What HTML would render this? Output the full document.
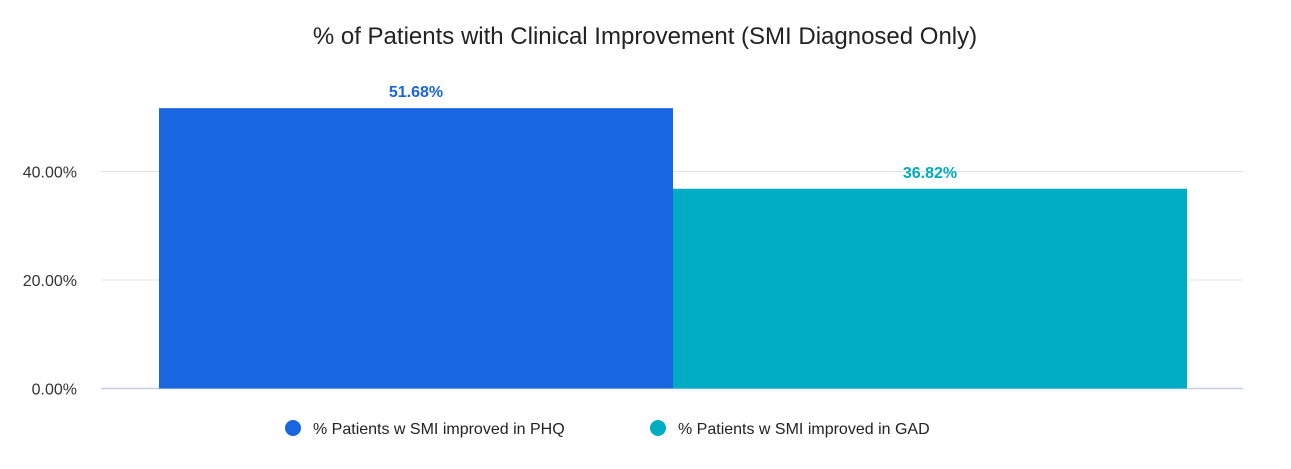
<!DOCTYPE html>
<html><head><meta charset="utf-8"><style>
body{margin:0;background:#fff;}
svg{display:block;font-family:"Liberation Sans",Arial,sans-serif;}
</style></head><body>
<svg id="chart" width="1291" height="469" viewBox="0 0 1291 469">
<text x="645" y="44" text-anchor="middle" font-size="24" fill="#222">% of Patients with Clinical Improvement (SMI Diagnosed Only)</text>
<g id="grid"></g><g id="bars"></g>
<g>
<g><circle cx="293" cy="428" r="8" fill="#1a65e0"/><text x="313" y="434" font-size="16" fill="#222">% Patients w SMI improved in PHQ</text></g>
<g><circle cx="658" cy="428" r="8" fill="#00acc1"/><text x="678" y="434" font-size="16" fill="#222">% Patients w SMI improved in GAD</text></g>
</g>
</svg>
<script>
const seriesNames=["% Patients w SMI improved in PHQ","% Patients w SMI improved in GAD"];
const seriesValues=[51.68,36.82];
const seriesColors=["#1a65e0","#00acc1"];
const tickValues=[0,20,40];
const tickLabels=["0.00%","20.00%","40.00%"];
const NS="http://www.w3.org/2000/svg";
const y0=388.5, pxPer=5.425, plotL=101, plotR=1243, barL=159, barW=514;
const y=v=>y0-v*pxPer;
function mk(t,a,p){const e=document.createElementNS(NS,t);for(const k in a)e.setAttribute(k,a[k]);p.appendChild(e);return e;}
const grid=document.getElementById('grid'),bars=document.getElementById('bars');
tickValues.forEach((v,i)=>{
 const l=mk('line',{x1:plotL,x2:plotR,y1:y(v),y2:y(v),stroke:v===0?'#c5cde0':'#e3e3e3','stroke-width':v===0?1.5:1},grid);
 
 
 const t=mk('text',{x:77,y:y(v)+6,'text-anchor':'end','font-size':16,fill:'#333'},grid);
 t.textContent=tickLabels[i];
 
 
});
seriesValues.forEach((v,i)=>{
 const x=barL+i*barW;
 const r=mk('rect',{x:x,y:y(v),width:barW,height:y0-y(v),fill:seriesColors[i]},bars);
 
 
 const t=mk('text',{x:x+barW/2,y:y(v)-11,'text-anchor':'middle','font-size':16,'font-weight':'bold',fill:seriesColors[i]},bars);
 t.textContent=v.toFixed(2)+'%';
 
 
});
</script>
</body></html>
